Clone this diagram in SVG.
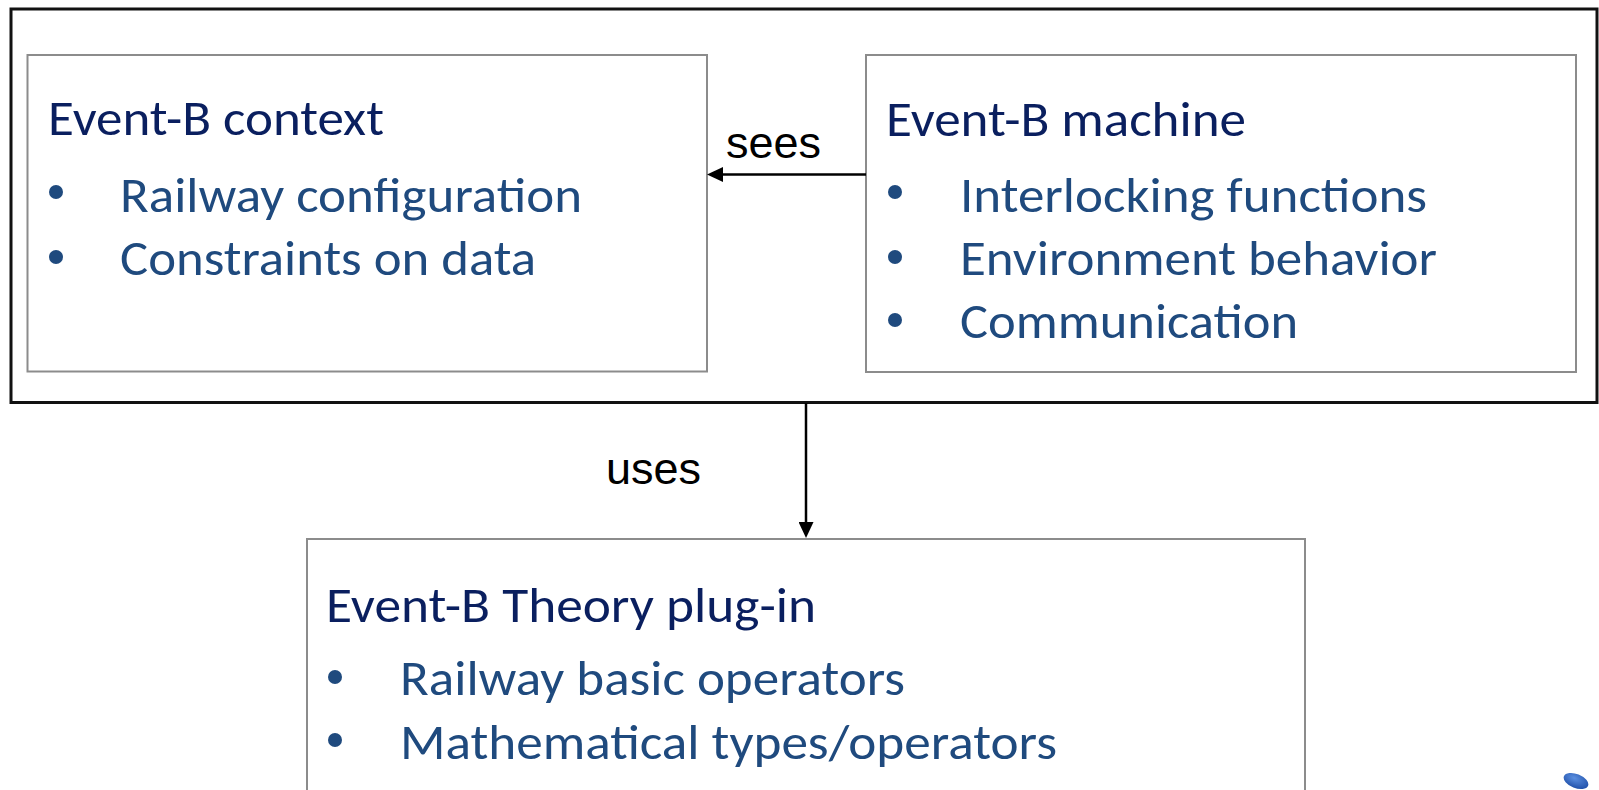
<svg xmlns="http://www.w3.org/2000/svg" width="1599" height="790" viewBox="0 0 1599 790">
  <defs>
    <style>
      .frame { fill: #ffffff; stroke: #111111; stroke-width: 3; }
      .box { fill: #ffffff; stroke: #8c8c8c; stroke-width: 2; }
      .title { font-family: Carlito, Lato, "Noto Sans", sans-serif; font-size: 49px; fill: #0a1f5f; }
      .item { font-family: Carlito, Lato, "Noto Sans", sans-serif; font-size: 49px; fill: #1f4a7e; }
      .dot { fill: #1f4a7e; }
      .label { font-family: "Liberation Sans", Arial, sans-serif; font-size: 45px; fill: #000000; }
      .link { stroke: #000000; stroke-width: 2.5; fill: none; }
    </style>
    <marker id="arrow" markerUnits="userSpaceOnUse" viewBox="0 0 16 15" markerWidth="16" markerHeight="15" refX="8" refY="7.5" orient="auto">
      <path d="M0,0 L16,7.5 L0,15 Z" fill="#000000"/>
    </marker>
    <radialGradient id="blobFill" cx="0.4" cy="0.35" r="0.7">
      <stop offset="0" stop-color="#5b8fe0"/>
      <stop offset="1" stop-color="#1f4fa8"/>
    </radialGradient>
  </defs>

  <rect width="1599" height="790" fill="#ffffff"/>

  <!-- Enclosing frame for the Event-B model -->
  <g id="model-frame">
    <rect class="frame" x="11" y="9" width="1586" height="393.5"/>
  </g>

  <!-- Event-B context -->
  <g id="context">
    <rect class="box" x="27.5" y="55" width="679.5" height="316.5"/>
    <text class="title" x="48" y="135" textLength="336" lengthAdjust="spacingAndGlyphs">Event-B context</text>
    <circle class="dot" cx="56" cy="192" r="7"/>
    <text class="item" x="120" y="212" textLength="462" lengthAdjust="spacingAndGlyphs">Railway configuration</text>
    <circle class="dot" cx="56" cy="257" r="7"/>
    <text class="item" x="120" y="275" textLength="416" lengthAdjust="spacingAndGlyphs">Constraints on data</text>
  </g>

  <!-- Event-B machine -->
  <g id="machine">
    <rect class="box" x="866" y="55" width="710" height="317"/>
    <text class="title" x="886" y="136" textLength="360" lengthAdjust="spacingAndGlyphs">Event-B machine</text>
    <circle class="dot" cx="895" cy="192" r="7"/>
    <text class="item" x="960" y="212" textLength="467" lengthAdjust="spacingAndGlyphs">Interlocking functions</text>
    <circle class="dot" cx="895" cy="257" r="7"/>
    <text class="item" x="960" y="275" textLength="477" lengthAdjust="spacingAndGlyphs">Environment behavior</text>
    <circle class="dot" cx="895" cy="320" r="7"/>
    <text class="item" x="960" y="338" textLength="338" lengthAdjust="spacingAndGlyphs">Communication</text>
  </g>

  <!-- Event-B Theory plug-in -->
  <g id="theory">
    <rect class="box" x="307" y="539" width="998" height="300"/>
    <text class="title" x="326" y="622" textLength="490" lengthAdjust="spacingAndGlyphs">Event-B Theory plug-in</text>
    <circle class="dot" cx="335" cy="677" r="7"/>
    <text class="item" x="400" y="695" textLength="505" lengthAdjust="spacingAndGlyphs">Railway basic operators</text>
    <circle class="dot" cx="335" cy="740" r="7"/>
    <text class="item" x="400" y="759" textLength="657" lengthAdjust="spacingAndGlyphs">Mathematical types/operators</text>
  </g>

  <!-- Connectors -->
  <g id="connectors">
    <line class="link" x1="866" y1="174.5" x2="715" y2="174.5" marker-end="url(#arrow)"/>
    <text class="label" x="726" y="158">sees</text>
    <line class="link" x1="806" y1="403" x2="806" y2="530" marker-end="url(#arrow)"/>
    <text class="label" x="606" y="484">uses</text>
  </g>

  <!-- Small blue emblem in the corner -->
  <g id="emblem">
    <ellipse cx="1576" cy="781" rx="13" ry="7" transform="rotate(22 1576 781)" fill="url(#blobFill)"/>
  </g>
</svg>
